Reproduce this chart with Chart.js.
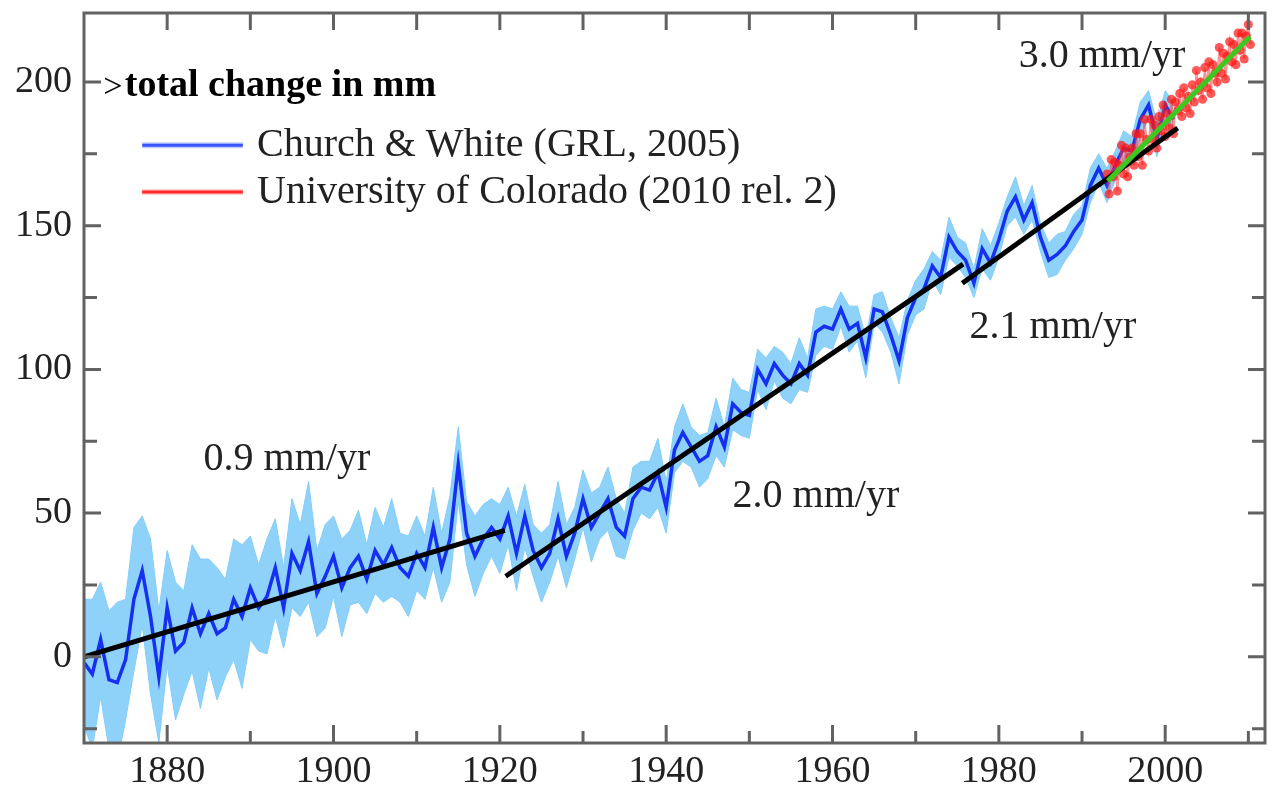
<!DOCTYPE html>
<html>
<head>
<meta charset="utf-8">
<script src="https://cdn.jsdelivr.net/npm/chart.js@4/dist/chart.umd.min.js"></script>
<style>
  html, body { margin: 0; padding: 0; background: #fff; }
  #wrap { width: 1277px; height: 796px; }
</style>
</head>
<body>
<div id="wrap"><canvas id="sea_level_chart" width="1277" height="796"></canvas></div>
<script>
// Church & White (2005) yearly values, mm
const cwYears = [
  1870, 1871, 1872, 1873, 1874, 1875, 1876, 1877, 1878, 1879,
  1880, 1881, 1882, 1883, 1884, 1885, 1886, 1887, 1888, 1889,
  1890, 1891, 1892, 1893, 1894, 1895, 1896, 1897, 1898, 1899,
  1900, 1901, 1902, 1903, 1904, 1905, 1906, 1907, 1908, 1909,
  1910, 1911, 1912, 1913, 1914, 1915, 1916, 1917, 1918, 1919,
  1920, 1921, 1922, 1923, 1924, 1925, 1926, 1927, 1928, 1929,
  1930, 1931, 1932, 1933, 1934, 1935, 1936, 1937, 1938, 1939,
  1940, 1941, 1942, 1943, 1944, 1945, 1946, 1947, 1948, 1949,
  1950, 1951, 1952, 1953, 1954, 1955, 1956, 1957, 1958, 1959,
  1960, 1961, 1962, 1963, 1964, 1965, 1966, 1967, 1968, 1969,
  1970, 1971, 1972, 1973, 1974, 1975, 1976, 1977, 1978, 1979,
  1980, 1981, 1982, 1983, 1984, 1985, 1986, 1987, 1988, 1989,
  1990, 1991, 1992, 1993, 1994, 1995, 1996, 1997, 1998, 1999,
  2000, 2001
];
const cwLevel = [
  -2, -6, 6, -8, -9, -1, 20, 30, 14, -7,
  17, 2, 5, 17, 8, 15, 8, 10, 20, 14,
  24, 17, 21, 31, 17, 36, 30, 40, 22, 28,
  35, 24, 31, 35, 27, 37, 32, 38, 31, 28,
  36, 31, 45, 31, 41, 67, 43, 35, 41, 45,
  41, 49, 36, 49, 37, 31, 36, 48, 35, 43,
  55, 45, 50, 55, 45, 42, 55, 59, 58, 64,
  52, 72, 78, 73, 68, 70, 80, 73, 88, 85,
  84, 100, 95, 102, 98, 95, 102, 98, 113, 115,
  114, 121, 114, 116, 104, 121, 120, 112, 103, 118,
  125, 128, 136, 132, 146, 141, 138, 130, 142, 137,
  145, 155, 160, 152, 158, 146, 138, 140, 143, 148,
  152, 164, 170, 164, 171, 177, 176, 187, 192, 180,
  192, 187
];
// half width of the light blue uncertainty band, mm
const cwError = [
  22, 26, 20, 24, 28, 21, 25, 19, 27, 23,
  20, 24, 18, 22, 26, 19, 23, 17, 21, 25,
  18, 15, 20, 17, 14, 19, 16, 21, 15, 18,
  14, 17, 13, 16, 12, 15, 13, 17, 12, 14,
  13, 11, 14, 12, 15, 13, 11, 14, 12, 10,
  12, 10, 13, 11, 9, 12, 10, 13, 11, 9,
  10, 12, 9, 11, 10, 8, 11, 9, 10, 12,
  9, 8, 10, 7, 9, 8, 10, 7, 9, 8,
  8, 7, 9, 6, 8, 7, 9, 6, 8, 7,
  7, 6, 8, 6, 7, 5, 7, 6, 8, 6,
  6, 7, 5, 6, 7, 5, 6, 5, 7, 6,
  6, 5, 7, 5, 6, 5, 6, 7, 5, 6,
  5, 6, 5, 6, 5, 6, 5, 6, 5, 6,
  5, 6
];

// University of Colorado altimetry (quarterly reads of the red cloud)
const ucYears = [
  1993.00, 1993.25, 1993.50, 1993.75, 1994.00, 1994.25, 1994.50, 1994.75,
  1995.00, 1995.25, 1995.50, 1995.75, 1996.00, 1996.25, 1996.50, 1996.75,
  1997.00, 1997.25, 1997.50, 1997.75, 1998.00, 1998.25, 1998.50, 1998.75,
  1999.00, 1999.25, 1999.50, 1999.75, 2000.00, 2000.25, 2000.50, 2000.75,
  2001.00, 2001.25, 2001.50, 2001.75, 2002.00, 2002.25, 2002.50, 2002.75,
  2003.00, 2003.25, 2003.50, 2003.75, 2004.00, 2004.25, 2004.50, 2004.75,
  2005.00, 2005.25, 2005.50, 2005.75, 2006.00, 2006.25, 2006.50, 2006.75,
  2007.00, 2007.25, 2007.50, 2007.75, 2008.00, 2008.25, 2008.50, 2008.75,
  2009.00, 2009.25, 2009.50, 2009.75, 2010.00, 2010.25
];
const ucLevel = [
  168, 161, 173, 167, 172, 162, 171, 178,
  168, 177, 167, 174, 177, 171, 182, 174,
  182, 171, 187, 180, 176, 187, 180, 185,
  177, 188, 183, 192, 181, 189, 184, 194,
  182, 193, 190, 196, 188, 198, 191, 195,
  189, 199, 193, 204, 197, 200, 194, 205,
  198, 207, 196, 206, 203, 200, 212, 203,
  210, 201, 209, 214, 207, 213, 206, 217,
  211, 217, 208, 216, 220, 213
];

// fitted rates: start/end year and start/end level of each black segment
const trendYears = [[1870, 1920.6], [1920.7, 1975.7], [1975.6, 2001.5]];
const trendLevels = [[0, 44], [28, 136.6], [130, 184]];
const satYears = [1993.1, 2010.2];
const satLevels = [165.5, 215.7];

const rateLabels = ['0.9 mm/yr', '2.0 mm/yr', '2.1 mm/yr', '3.0 mm/yr'];
const rateYears = [1894.4, 1958.0, 1986.5, 1992.4];
const rateLevels = [68.6, 55.7, 114.6, 208.7];

const xTickLabels = [1880, 1900, 1920, 1940, 1960, 1980, 2000];
const xTickMarks = [1880, 1890, 1900, 1910, 1920, 1930, 1940, 1950, 1960, 1970, 1980, 1990, 2000, 2010];
const yTickLabels = [0, 50, 100, 150, 200];
const yTickMarks = [-25, 0, 25, 50, 75, 100, 125, 150, 175, 200];

const serif = "'Liberation Serif', 'DejaVu Serif', serif";
const axisGray = '#626262';

const toPoints = (xs, ys) => xs.map((x, i) => ({ x, y: ys[i] }));

const datasets = [
  {
    label: 'band upper',
    data: toPoints(cwYears, cwLevel.map((v, i) => v + cwError[i])),
    borderColor: 'rgba(130,205,250,1)',
    borderWidth: 1,
    backgroundColor: 'rgba(130,205,250,0.9)',
    fill: '+1',
    order: 6,
  },
  {
    label: 'band lower',
    data: toPoints(cwYears, cwLevel.map((v, i) => v - cwError[i])),
    borderColor: 'rgba(130,205,250,1)',
    borderWidth: 1,
    fill: false,
    order: 5,
  },
  {
    label: 'Church & White (GRL, 2005)',
    data: toPoints(cwYears, cwLevel),
    borderColor: '#1530f0',
    borderWidth: 3.5,
    order: 4,
  },
  {
    label: 'University of Colorado (2010 rel. 2)',
    data: toPoints(ucYears, ucLevel),
    borderColor: 'rgba(255,60,60,0.55)',
    borderWidth: 2,
    pointRadius: 4.5,
    pointBackgroundColor: 'rgba(255,20,20,0.7)',
    pointBorderWidth: 0,
    order: 3,
  },
];

trendYears.forEach((yrs, i) => {
  datasets.push({
    label: 'trend ' + i,
    data: toPoints(yrs, trendLevels[i]),
    borderColor: '#000',
    borderWidth: 5,
    borderCapStyle: 'butt',
    order: 1,
  });
});

datasets.push({
  label: 'satellite trend',
  data: toPoints(satYears, satLevels),
  borderColor: '#3cc81e',
  borderWidth: 5,
  order: 0,
});

// frame with inward ticks on all four sides, rate labels and the in-plot legend
const overlayPlugin = {
  id: 'overlay',
  afterDatasetsDraw(chart) {
    const { ctx, chartArea: area, scales: { x, y } } = chart;
    ctx.save();
    ctx.strokeStyle = axisGray;
    ctx.lineWidth = 3;
    ctx.strokeRect(area.left, area.top, area.right - area.left, area.bottom - area.top);

    xTickMarks.forEach((v) => {
      const px = x.getPixelForValue(v);
      const len = xTickLabels.includes(v) ? 18 : 12;
      ctx.beginPath();
      ctx.moveTo(px, area.bottom);
      ctx.lineTo(px, area.bottom - len);
      ctx.moveTo(px, area.top);
      ctx.lineTo(px, area.top + 17);
      ctx.stroke();
    });
    yTickMarks.forEach((v) => {
      const py = y.getPixelForValue(v);
      const len = yTickLabels.includes(v) ? 17 : 13;
      ctx.beginPath();
      ctx.moveTo(area.left, py);
      ctx.lineTo(area.left + len, py);
      ctx.moveTo(area.right, py);
      ctx.lineTo(area.right - len, py);
      ctx.stroke();
    });

    ctx.fillStyle = '#222';
    ctx.font = '40px ' + serif;
    ctx.textAlign = 'center';
    ctx.textBaseline = 'middle';
    rateLabels.forEach((txt, i) => {
      ctx.fillText(txt, x.getPixelForValue(rateYears[i]), y.getPixelForValue(rateLevels[i]));
    });

    // title line
    ctx.textAlign = 'left';
    ctx.fillStyle = '#000';
    const tx = x.getPixelForValue(1872.3);
    const ty = y.getPixelForValue(198.5);
    ctx.font = '34px ' + serif;
    ctx.fillText('>', tx, ty + 2);
    ctx.font = 'bold 38px ' + serif;
    ctx.fillText('total change in mm', x.getPixelForValue(1874.9), ty);

    // legend
    const legendRows = [
      { ds: datasets[2], level: 178, color: '#3a55ff', halo: 'rgba(150,170,255,0.6)' },
      { ds: datasets[3], level: 161.7, color: '#ff2a2a', halo: 'rgba(255,170,170,0.6)' },
    ];
    const lx0 = x.getPixelForValue(1877.0);
    const lx1 = x.getPixelForValue(1889.1);
    const ltx = x.getPixelForValue(1890.8);
    ctx.font = '40px ' + serif;
    ctx.fillStyle = '#222';
    legendRows.forEach((row) => {
      const py = y.getPixelForValue(row.level);
      ctx.strokeStyle = row.halo;
      ctx.lineWidth = 6;
      ctx.beginPath();
      ctx.moveTo(lx0, py);
      ctx.lineTo(lx1, py);
      ctx.stroke();
      ctx.strokeStyle = row.color;
      ctx.lineWidth = 3;
      ctx.beginPath();
      ctx.moveTo(lx0, py);
      ctx.lineTo(lx1, py);
      ctx.stroke();
      ctx.fillText(row.ds.label, ltx, py);
    });
    ctx.restore();
  }
};

const chartContext = document.getElementById('sea_level_chart').getContext('2d');
const chart = new Chart(chartContext, {
  type: 'line',
  data: { datasets },
  plugins: [overlayPlugin],
  options: {
    responsive: false,
    animation: false,
    layout: { padding: { top: 13, right: 12, left: 0, bottom: 0 } },
    elements: { point: { radius: 0 }, line: { tension: 0 } },
    plugins: { legend: { display: false }, tooltip: { enabled: false } },
    scales: {
      x: {
        type: 'linear',
        min: 1870,
        max: 2012,
        grid: { display: false, drawTicks: false },
        border: { display: false },
        afterBuildTicks: (scale) => { scale.ticks = xTickLabels.map((value) => ({ value })); },
        afterFit: (scale) => {
          scale.height = 53;
          scale.paddingLeft = 0;
          scale.paddingRight = 0;
        },
        ticks: {
          autoSkip: false,
          maxRotation: 0,
          padding: 6,
          color: '#222',
          font: { family: serif, size: 38 },
          callback: (v) => String(v),
        },
      },
      y: {
        type: 'linear',
        min: -30,
        max: 224,
        grid: { display: false, drawTicks: false },
        border: { display: false },
        afterBuildTicks: (scale) => { scale.ticks = yTickLabels.map((value) => ({ value })); },
        afterFit: (scale) => {
          scale.width = 84;
          scale.paddingTop = 0;
          scale.paddingBottom = 0;
        },
        ticks: {
          padding: 12,
          color: '#222',
          font: { family: serif, size: 38 },
          callback: (v) => String(v),
        },
      },
    },
  },
});
</script>
</body>
</html>
